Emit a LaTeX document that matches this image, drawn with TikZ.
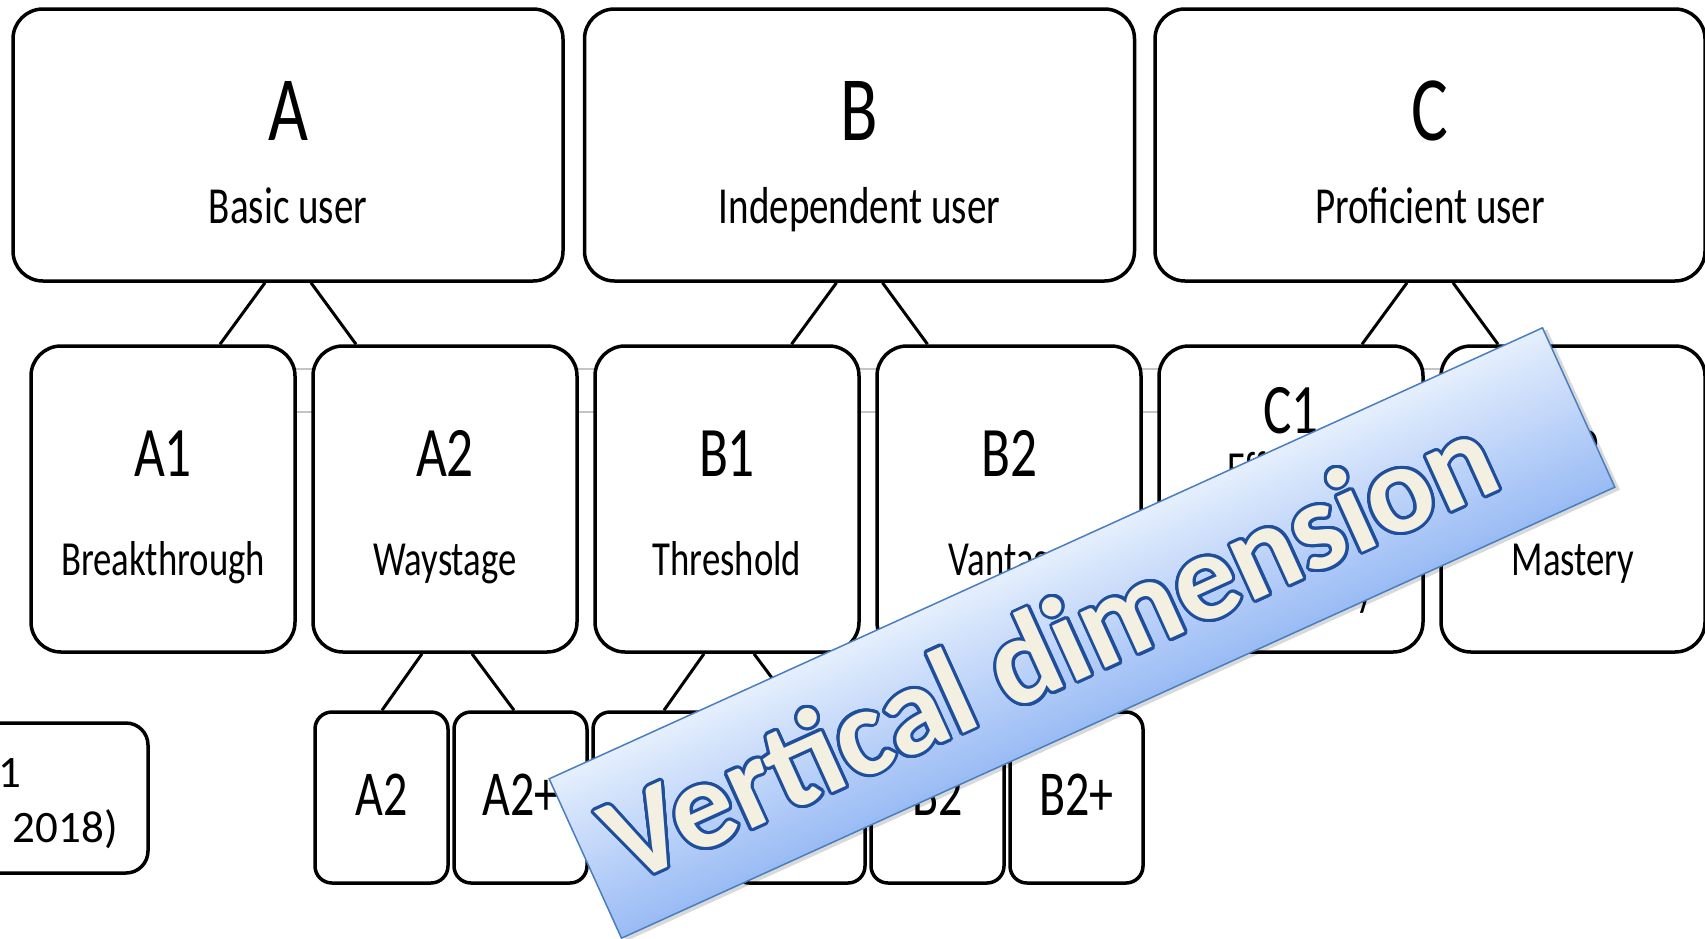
\documentclass[tikz,border=0pt]{standalone}
\usepackage{fontspec}
\setmainfont{Carlito}
\newfontfamily\narrowfont{Carlito}[FakeStretch=0.75]

\definecolor{rulegray}{HTML}{C4C4C4}
\definecolor{bandtop}{HTML}{E4EEFD}
\definecolor{bandbot}{HTML}{98BAF4}
\definecolor{bandedge}{HTML}{4A7EBF}
\definecolor{lettering}{HTML}{F3F0E2}
\definecolor{letterline}{HTML}{1E4E9C}

\tikzset{
  lvlbox/.style={draw, line width=3.5pt, fill=white, rounded corners=30pt, inner sep=0pt},
  userbox/.style={lvlbox, minimum width=550pt, minimum height=272pt},
  stagebox/.style={lvlbox, minimum width=264pt, minimum height=306pt},
  plusbox/.style={lvlbox, rounded corners=17pt, minimum width=133pt, minimum height=171pt},
  srcbox/.style={lvlbox, rounded corners=22pt, minimum width=190pt, minimum height=150pt},
  username/.style={anchor=base, inner sep=0pt, font=\narrowfont\fontsize{92}{100}\selectfont},
  usersub/.style={anchor=base, inner sep=0pt, font=\narrowfont\fontsize{52}{60}\selectfont},
  stagename/.style={anchor=base, inner sep=0pt, font=\narrowfont\fontsize{71}{80}\selectfont},
  stagesub/.style={anchor=base, inner sep=0pt, align=center, font=\narrowfont\fontsize{49}{60}\selectfont},
  plusname/.style={anchor=base, inner sep=0pt, font=\narrowfont\fontsize{64}{70}\selectfont},
  srctext/.style={anchor=base east, inner sep=0pt, font=\fontsize{45}{54}\selectfont},
  branch/.style={line width=3pt},
  rule/.style={draw=rulegray, line width=1.5pt},
  vdband/.style={draw=bandedge, line width=1.5pt, minimum width=1091pt, minimum height=175pt,
    inner sep=0pt, rotate=24.42},
  vdtext/.style={anchor=base, inner sep=0pt, font=\bfseries\fontsize{125}{130}\selectfont},
}

\begin{document}
\begin{tikzpicture}[x=1pt, y=-1pt]
  \useasboundingbox (0,0) rectangle (1705,938);
  \clip (0,0) rectangle (1705,938);

  % faint rules behind the middle row
  \draw[rule] (31,369) -- (1703,369);
  \draw[rule] (31,412) -- (1703,412);

  % user levels
  \node[userbox] (A) at (288,145) {};
  \node[userbox] (B) at (859.5,145) {};
  \node[userbox] (C) at (1430,145) {};
  \node[username, yshift=5pt] (An) at (A.center) {A};
  \node[username, yshift=5pt] (Bn) at (B.center) {B};
  \node[username, yshift=5pt] (Cn) at (C.center) {C};
  \node[usersub, yshift=-78pt] (As) at (A.center) {Basic user};
  \node[usersub, yshift=-78pt] (Bs) at (B.center) {Independent user};
  \node[usersub, yshift=-78pt] (Cs) at (C.center) {Proficient user};

  % common reference levels
  \node[stagebox] (A1) at (163,499) {};
  \node[stagebox] (A2) at (445,499) {};
  \node[stagebox] (B1) at (727,499) {};
  \node[stagebox] (B2) at (1009,499) {};
  \node[stagebox] (C1) at (1291,499) {};
  \node[stagebox] (C2) at (1573,499) {};
  \foreach \lv/\sub in {A1/Breakthrough, A2/Waystage, B1/Threshold, B2/Vantage, C2/Mastery} {
    \node[stagename, yshift=23pt] (\lv n) at (\lv.center) {\lv};
    \node[stagesub, yshift=-76pt] (\lv s) at (\lv.center) {\sub};
  }
  \node[stagename, yshift=66pt] (C1n) at (C1.center) {C1};
  \node[stagesub, yshift=-106pt] (C1s) at (C1.center) {Effective\\Operational\\Proficiency};

  % plus levels
  \foreach \lv/\x [count=\i] in {A2/381.5, A2+/520.5, B1/659.5, B1+/798.5, B2/937.5, B2+/1076.5} {
    \node[plusbox] (p\i) at (\x,797.5) {};
    \node[plusname, yshift=-17.5pt] (p\i n) at (p\i.center) {\lv};
  }

  % branches
  \foreach \up/\left/\right in {A/A1/A2, B/B1/B2, C/C1/C2} {
    \draw[branch] ([xshift=-23pt]\up.south) -- ([xshift=-68pt]\up.south |- \left.north);
    \draw[branch] ([xshift=23pt]\up.south) -- ([xshift=68pt]\up.south |- \right.north);
  }
  \foreach \up/\left/\right in {A2/p1/p2, B1/p3/p4, B2/p5/p6} {
    \draw[branch] ([xshift=-23pt]\up.south) -- ([xshift=-63pt]\up.south |- \left.north);
    \draw[branch] ([xshift=27pt]\up.south) -- ([xshift=69pt]\up.south |- \right.north);
  }

  % source box at the left edge
  \node[srcbox] (src) at (53,798) {};
  \node[srctext] (src1) at (22,787) {CEFR 2001};
  \node[srctext] (src2) at (118,842) {(Council of Europe, 2018)};

  % banner: soft shadow, shaded strips, edge, outlined lettering
  \coordinate (vdc) at (1082,633);
  \begin{scope}[shift={(vdc)}, rotate=24.42, transform shape]
    \fill[black, opacity=0.15] (-542,-84) rectangle (549,92);
    \fill[bandtop] (-545.5,-87.5) rectangle (545.5,87.5);
    \foreach \i in {1,...,35} {
      \pgfmathtruncatemacro\p{\i*100/35}
      \fill[bandbot!\p!bandtop] (-545.5,-87.5+5*\i) rectangle (545.5,87.5);
    }
  \end{scope}
  \node[vdband] (vd) at (vdc) {};
  \begin{scope}[shift={(vd.center)}, rotate=24.42, transform shape]
    \foreach \a [count=\k] in {0,15,...,345}
      \node[vdtext, text=letterline, shift={(\a:3pt)}] (vdo\k) at (-36,42) {Vertical dimension};
    \node[vdtext, text=lettering] (vdt) at (-36,42) {Vertical dimension};
  \end{scope}
\end{tikzpicture}
\end{document}
